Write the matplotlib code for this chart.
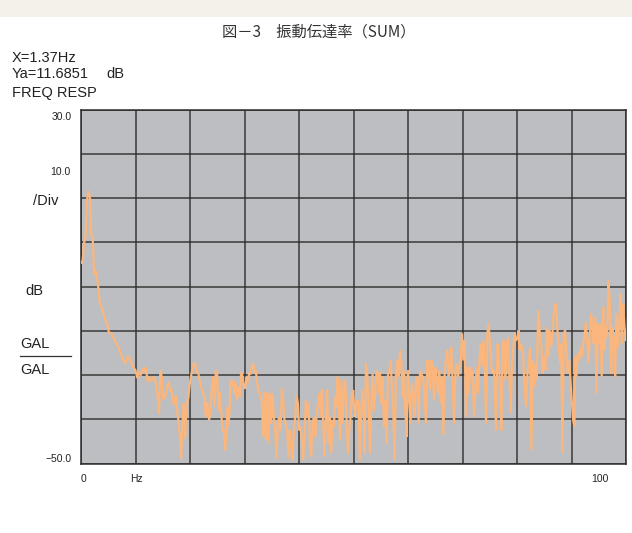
import matplotlib
matplotlib.use("Agg")
import matplotlib.pyplot as plt
from matplotlib.patches import Rectangle
from matplotlib.lines import Line2D

# ---- data ----
freq_hz = [
    0.06, 0.31, 0.55, 0.79, 1.16, 1.37, 1.65, 1.89, 2.15, 2.39, 2.63, 2.88, 3.12, 3.43, 3.86, 4.35, 4.83,
    5.09, 5.56, 5.88, 6.30, 6.67, 6.92, 7.40, 7.77, 8.14, 8.63, 9.00, 9.55, 9.97, 10.34, 10.60, 10.96,
    11.33, 11.70,
    11.88, 12.25, 12.49, 12.98, 13.46, 13.72, 14.09, 14.32, 14.56, 14.82, 15.11, 15.43, 15.79, 16.16,
    16.40, 16.66, 17.02, 17.39, 17.63, 17.87, 18.13, 18.37, 18.60, 18.86, 19.10, 19.34, 19.71, 19.96,
    20.33, 20.70, 20.94, 21.25, 21.54, 21.91, 22.28, 22.64, 22.90, 23.14, 23.51, 23.75, 24.00, 24.24,
    24.48,
    24.74, 24.98, 25.22, 25.47, 25.71, 25.95, 26.21, 26.45, 26.68, 26.81, 27.05, 27.31, 27.42, 27.68,
    27.97, 28.15, 28.41, 28.59, 28.89, 29.15, 29.38, 29.62, 29.88, 30.12, 30.36, 30.61, 30.85, 31.09,
    31.35, 31.59, 31.83, 32.08, 32.32, 32.56, 32.93, 33.19, 33.42, 33.66, 33.92, 34.16, 34.40, 34.65,
    34.89, 35.13, 35.39, 35.63, 35.87, 36.12, 36.36, 36.60, 36.86, 37.10, 37.34,
    37.59, 37.83, 38.07, 38.33, 38.57, 38.81, 39.06, 39.30, 39.54, 39.80, 40.04, 40.27, 40.53, 40.77,
    41.01, 41.27, 41.50, 41.74, 42.00, 42.24, 42.48, 42.74, 42.97, 43.21, 43.47, 43.71, 43.95, 44.20,
    44.44, 44.68, 44.94, 45.18, 45.42, 45.67, 45.91, 46.15, 46.41, 46.65, 46.89, 47.01, 47.25, 47.51,
    47.75, 47.99, 48.24, 48.48, 48.72, 48.98, 49.22, 49.46, 49.71, 49.95, 50.19,
    50.45, 50.69, 50.93, 51.18, 51.42, 51.66, 51.92, 52.03, 52.29, 52.52, 52.76, 53.02, 53.26, 53.50,
    53.75, 53.99, 54.23, 54.49, 54.73, 54.86, 55.10, 55.33, 55.59, 55.83, 56.07, 56.33, 56.56, 56.80,
    57.06, 57.30, 57.54, 57.79, 58.03, 58.27, 58.53, 58.77, 59.01, 59.26, 59.50, 59.74, 60.00, 60.24,
    60.48, 60.73, 60.97, 61.21, 61.47, 61.71, 61.95, 62.20, 62.44, 62.68, 62.94,
    63.30, 63.54, 63.78, 64.04, 64.28, 64.52, 64.77, 65.01, 65.25, 65.51, 65.75, 65.99, 66.24, 66.48,
    66.72, 66.98, 67.22, 67.46, 67.71, 67.95, 68.19, 68.45, 68.69, 68.92, 69.18, 69.42, 69.66, 69.92,
    70.15, 70.39, 70.65, 70.89, 71.13, 71.38, 71.62, 71.86, 72.12, 72.36, 72.60, 72.85, 73.09, 73.33,
    73.59, 73.83, 74.07, 74.32, 74.56, 74.80, 75.06, 75.30, 75.54, 75.79,
    76.16, 76.40, 76.64, 76.89, 77.13, 77.37, 77.63, 77.87, 78.11, 78.36, 78.60, 78.84, 79.10, 79.33,
    79.57, 79.83, 80.07, 80.31, 80.44, 80.68, 80.93, 81.17, 81.41, 81.67, 81.91, 82.15, 82.40, 82.64,
    82.88, 83.14, 83.38, 83.62, 83.87, 83.98, 84.24, 84.48, 84.72, 84.97, 85.21, 85.45, 85.71, 85.95,
    86.19, 86.44, 86.68, 86.92, 87.18, 87.42, 87.66, 87.91,
    88.10, 88.34, 88.57, 88.83, 89.07, 89.31, 89.57, 89.80, 90.04, 90.30, 90.54, 90.67, 90.91, 91.15,
    91.40, 91.64, 91.88, 92.14, 92.38, 92.61, 92.87, 93.11, 93.35, 93.61, 93.85, 94.08, 94.34, 94.58,
    94.82, 95.08, 95.31, 95.55, 95.81, 96.05, 96.29, 96.54, 96.78, 97.02, 97.28, 97.52, 97.76, 98.01,
    98.25, 98.49, 98.75, 98.99, 99.23, 99.48, 99.72, 99.96,
]
gain_db = [
    -4.6, -4.1, -0.2, 0.9, 10.0, 11.7, 10.0, 1.6, 0.9, -7.4, -6.3, -7.4, -9.7, -13.5, -14.9, -17.2, -18.7,
    -20.3, -20.6, -21.4, -22.5, -23.3, -23.9, -25.5, -26.6, -27.3, -25.7, -26.6, -28.2, -28.9, -30.7, -29.6, -30.0,
    -28.5, -29.3,
    -28.2, -31.6, -30.4, -31.2, -30.4, -31.9, -35.0, -38.7, -28.9, -30.4, -35.3, -35.0, -32.7, -31.6,
    -33.8, -33.4, -36.8, -34.6, -38.0, -40.2, -44.0, -48.9, -41.0, -36.4, -44.4, -37.2, -35.0, -31.9,
    -29.3, -27.4, -27.4, -29.3, -29.7, -31.9, -33.8, -35.0, -39.5, -36.1, -40.2, -38.0, -32.7, -30.4,
    -37.2,
    -28.9, -29.7, -38.0, -33.8, -38.0, -42.5, -42.5, -47.0, -44.0, -37.2, -41.7, -37.2, -31.2, -32.7,
    -31.2, -34.2, -31.9, -35.7, -32.7, -35.0, -29.3, -30.4, -32.7, -33.1, -30.4, -31.6, -29.7, -29.7,
    -27.8, -27.4, -29.7, -28.9, -31.9, -33.8, -34.2, -36.4, -44.0, -33.8, -44.7, -33.8, -45.5, -34.2,
    -41.0, -34.2, -39.5, -42.5, -48.9, -41.0, -39.5, -42.5, -33.1, -35.7, -40.2,
    -41.0, -42.5, -48.9, -42.5, -46.3, -49.3, -42.5, -39.5, -34.6, -36.4, -42.5, -41.7, -44.7, -49.3,
    -42.5, -35.7, -39.5, -36.4, -45.5, -48.5, -41.0, -39.5, -44.0, -39.5, -36.4, -34.2, -39.5, -33.1,
    -41.0, -48.5, -39.5, -33.4, -45.5, -39.5, -47.7, -40.2, -41.7, -35.0, -37.2, -30.4, -32.7, -44.7,
    -31.2, -41.0, -33.1, -31.2, -39.5, -47.7, -42.5, -39.5, -34.2, -33.4, -39.5,
    -37.2, -35.7, -36.4, -49.3, -38.0, -33.4, -40.2, -47.7, -27.4, -29.7, -38.0, -47.7, -36.4, -29.7,
    -38.0, -34.2, -28.9, -29.7, -34.2, -29.3, -36.4, -30.4, -41.7, -35.7, -45.5, -29.7, -29.3, -26.7,
    -32.7, -38.7, -49.3, -29.7, -26.7, -30.4, -24.4, -26.7, -35.0, -28.9, -38.0, -44.0, -28.9, -35.0,
    -41.0, -31.9, -34.2, -39.5, -31.2, -30.4, -41.0, -28.9, -29.7, -30.4, -32.7,
    -41.0, -26.7, -28.2, -33.4, -26.7, -28.2, -35.7, -28.2, -30.4, -34.2, -28.9, -36.4, -30.4, -43.6,
    -29.7, -25.9, -24.4, -30.4, -28.2, -23.7, -31.9, -41.0, -29.7, -27.4, -30.4, -28.2, -26.7, -20.6,
    -26.7, -22.1, -39.5, -28.2, -34.2, -28.2, -30.4, -28.9, -39.5, -33.4, -28.2, -34.2, -26.7, -22.9,
    -28.2, -22.1, -27.4, -41.0, -20.6, -18.4, -23.7, -28.2, -29.7, -28.9,
    -42.5, -22.9, -25.9, -33.4, -42.5, -22.9, -22.1, -31.2, -23.7, -21.4, -29.7, -38.7, -26.7, -23.7,
    -20.6, -22.1, -21.8, -19.9, -24.4, -22.9, -23.7, -26.7, -33.4, -37.2, -29.7, -26.7, -23.7, -47.0,
    -26.7, -32.7, -27.4, -31.2, -16.1, -15.4, -22.1, -23.7, -29.7, -25.9, -28.9, -19.1, -25.9, -19.9,
    -23.7, -22.1, -16.9, -14.6, -13.8, -19.9, -23.7, -27.4,
    -22.9, -47.7, -20.6, -19.9, -25.1, -29.7, -26.7, -31.2, -35.7, -40.2, -41.7, -25.9, -30.4, -25.1,
    -26.7, -23.7, -25.9, -22.9, -21.4, -18.0, -22.1, -27.4, -21.4, -16.1, -19.9, -22.9, -16.9, -34.2,
    -18.4, -22.9, -18.4, -30.4, -14.6, -24.4, -19.1, -21.4, -8.6, -13.1, -29.7, -19.1, -22.1, -30.4,
    -16.1, -23.7, -19.1, -11.6, -22.9, -13.8, -19.1, -22.1,
]

title_text = "図－3　振動伝達率（SUM）"
header_lines = ["X=1.37Hz", "Ya=11.6851", "FREQ RESP"]
y_top_label = "30.0"
y_bottom_label = "−50.0"
x_labels = ["0", "Hz", "100"]

W, H = 632, 533
fig = plt.figure(figsize=(W / 100, H / 100), dpi=100)
fig.patch.set_facecolor("white")

def px(x, y):
    return x / W, 1 - y / H

# top beige band
fig.patches.append(Rectangle((0, 1 - 17 / H), 1, 17 / H, transform=fig.transFigure,
                             facecolor="#f3f1ea", edgecolor="none", zorder=0))

ax_l, ax_r, ax_t, ax_b = 81, 626, 109.5, 463.5
ax = fig.add_axes([ax_l / W, 1 - ax_b / H, (ax_r - ax_l) / W, (ax_b - ax_t) / H])
ax.set_facecolor("#bdbec1")
ax.set_xlim(0, 100)
ax.set_ylim(-50, 30)
ax.set_xticks(range(0, 101, 10))
ax.set_yticks(range(-50, 31, 10))
ax.grid(True, color="#2c2c2c", linewidth=1.1, alpha=0.9)
ax.set_axisbelow(True)
ax.tick_params(length=0, labelbottom=False, labelleft=False)
for s in ax.spines.values():
    s.set_color("#2c2c2c")
    s.set_linewidth(1.1)

ax.plot(freq_hz, gain_db, color="#fab67c", linewidth=1.6, solid_joinstyle="miter", zorder=3)

latin = ["Liberation Sans", "DejaVu Sans"]
cjk = ["Noto Sans CJK JP", "DejaVu Sans"]

fig.text(*px(319, 32), title_text, family=cjk, fontsize=11, color="#333333",
         ha="center", va="center")

fig.text(*px(12, 58), header_lines[0], family=latin, fontsize=10.5, color="#222222", va="center")
fig.text(*px(12, 74), header_lines[1], family=latin, fontsize=10.5, color="#222222", va="center")
fig.text(*px(106, 74), "dB", family=latin, fontsize=10.5, color="#222222", va="center")
fig.text(*px(12, 93), header_lines[2], family=latin, fontsize=10.5, color="#222222", va="center")

small = 7.5
fig.text(*px(72, 117), y_top_label, family=latin, fontsize=small, color="#222222", ha="right", va="center")
fig.text(*px(70, 172), "10.0", family=latin, fontsize=small, color="#222222", ha="right", va="center")
fig.text(*px(33, 201), "/Div", family=latin, fontsize=10.5, color="#222222", ha="left", va="center")
fig.text(*px(25, 291), "dB", family=latin, fontsize=10.5, color="#222222", ha="left", va="center")
fig.text(*px(20, 344), "GAL", family=latin, fontsize=10.5, color="#222222", ha="left", va="center")
fig.text(*px(20, 370), "GAL", family=latin, fontsize=10.5, color="#222222", ha="left", va="center")
fig.lines.append(Line2D([20 / W, 71 / W], [1 - 356 / H, 1 - 356 / H], transform=fig.transFigure,
                        color="#333333", linewidth=0.9))
fig.text(*px(72, 459), y_bottom_label, family=latin, fontsize=small, color="#222222", ha="right", va="center")

fig.text(*px(84, 479), x_labels[0], family=latin, fontsize=small, color="#222222", ha="center", va="center")
fig.text(*px(136, 479), x_labels[1], family=latin, fontsize=small, color="#222222", ha="center", va="center")
fig.text(*px(600, 479), x_labels[2], family=latin, fontsize=small, color="#222222", ha="center", va="center")

fig.savefig("out.png", dpi=100, facecolor="white")
